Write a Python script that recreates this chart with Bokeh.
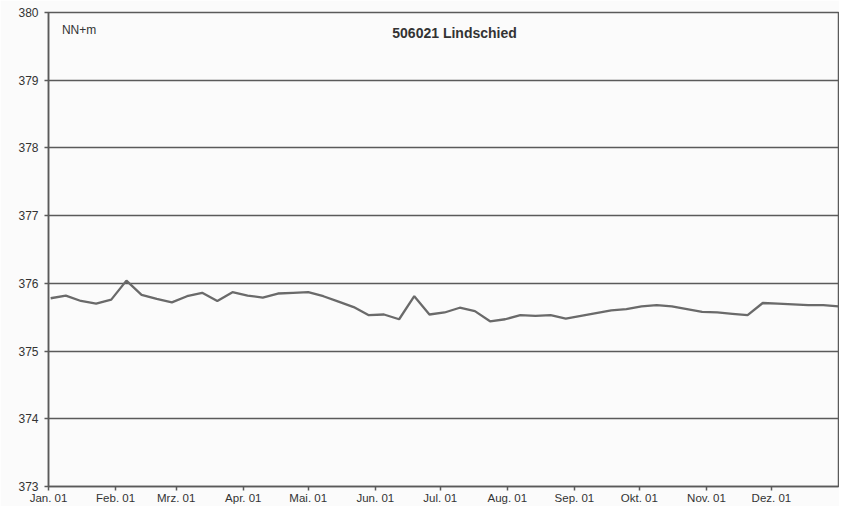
from bokeh.plotting import figure
from bokeh.models import Range1d, FixedTicker, Label
from bokeh.embed import file_html
from bokeh.resources import INLINE

# Days since 1 Jan 2001 (weekly readings)
days = [1 + 7 * k for k in range(53)]
levels = [
    375.78, 375.82, 375.74, 375.70, 375.76, 376.04, 375.83, 375.77, 375.72, 375.81,
    375.86, 375.74, 375.87, 375.82, 375.79, 375.85, 375.86, 375.87, 375.81, 375.73,
    375.65, 375.53, 375.54, 375.47, 375.81, 375.54, 375.57, 375.64, 375.59, 375.44,
    375.47, 375.53, 375.52, 375.53, 375.48, 375.52, 375.56, 375.60, 375.62, 375.66,
    375.68, 375.66, 375.62, 375.58, 375.57, 375.55, 375.53, 375.71, 375.70, 375.69,
    375.68, 375.68, 375.66,
]
month_days = [0, 31, 59, 90, 120, 151, 181, 212, 243, 273, 304, 334]
month_labels = ["Jan. 01", "Feb. 01", "Mrz. 01", "Apr. 01", "Mai. 01", "Jun. 01",
                "Jul. 01", "Aug. 01", "Sep. 01", "Okt. 01", "Nov. 01", "Dez. 01"]
y_ticks = [373, 374, 375, 376, 377, 378, 379, 380]
title_text = "506021  Lindschied"
unit_text = "NN+m"

TXT = "#333333"
LN = "#5a5a5a"
BG = "#fbfbfb"
FONT = "Liberation Sans"

p = figure(width=839, height=506, output_backend="svg", toolbar_location=None,
           x_range=Range1d(0, 365), y_range=Range1d(373, 380),
           min_border_left=48, min_border_right=1, min_border_top=12, min_border_bottom=17)
p.background_fill_color = BG
p.border_fill_color = BG
p.outline_line_color = LN
p.outline_line_width = 1.5

p.line(days, levels, line_color="#6a6a6a", line_width=2.3)

# axes
p.xaxis.ticker = FixedTicker(ticks=month_days)
p.xaxis.major_label_overrides = {d: l for d, l in zip(month_days, month_labels)}
p.yaxis.ticker = FixedTicker(ticks=y_ticks)
for ax in (p.xaxis[0], p.yaxis[0]):
    ax.axis_line_color = LN
    ax.axis_line_width = 1.5
    ax.major_tick_line_color = LN
    ax.major_tick_line_width = 1.5
    ax.major_tick_in = 0
    ax.major_tick_out = 4
    ax.minor_tick_line_color = None
    ax.major_label_text_color = TXT
    ax.major_label_text_font = FONT
    ax.major_label_text_font_size = "11.5px"
p.yaxis.major_label_text_font_size = "12px"
p.xaxis.major_label_standoff = 1
p.yaxis.major_label_standoff = 6

p.xgrid.grid_line_color = None
p.ygrid.grid_line_color = LN
p.ygrid.grid_line_width = 1.5

p.add_layout(Label(x=188.5, y=379.70, text=title_text, text_font=FONT,
                   text_font_size="14px", text_font_style="bold", text_color=TXT,
                   text_align="center", text_baseline="middle"))
p.add_layout(Label(x=6.2, y=379.74, text=unit_text, text_font=FONT,
                   text_font_size="12px", text_color=TXT,
                   text_align="left", text_baseline="middle"))

open("out.html", "w").write(file_html(p, INLINE))
